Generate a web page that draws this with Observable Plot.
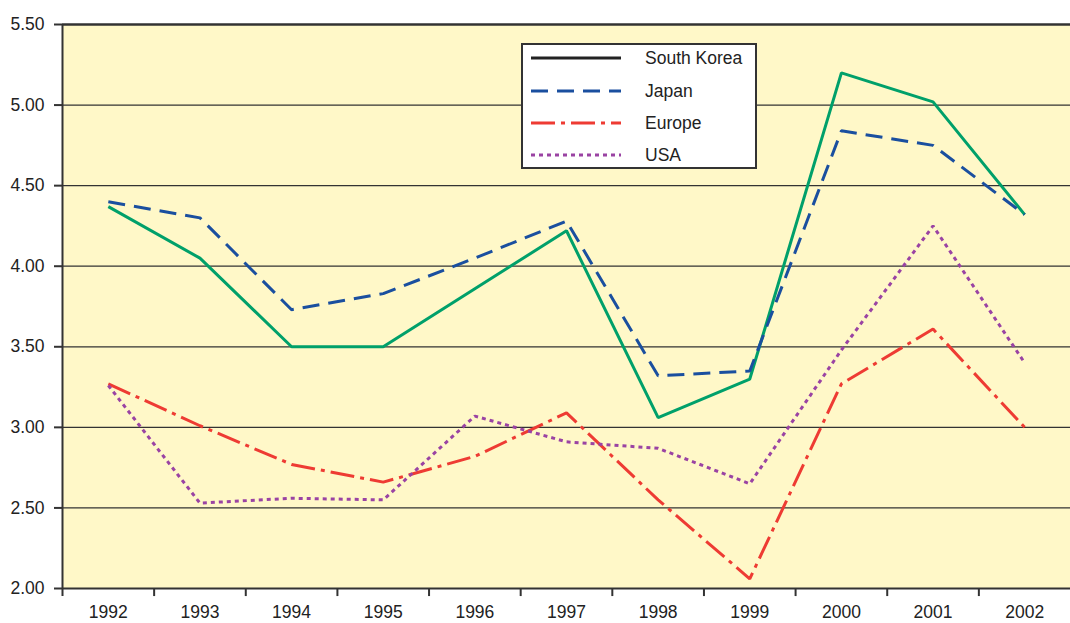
<!DOCTYPE html>
<html>
<head>
<meta charset="utf-8">
<script src="https://cdn.jsdelivr.net/npm/d3@7"></script>
<script src="https://cdn.jsdelivr.net/npm/@observablehq/plot@0.6"></script>
<style>
  html, body { margin: 0; padding: 0; background: #fff; }
  #wrap { position: relative; width: 1070px; height: 623px; font-family: "Liberation Sans", Arial, sans-serif; }
  #legend { position: absolute; left: 521px; top: 43px; width: 232px; height: 122px; background: #fff; border: 2px solid #333; }
  #legend svg { position: absolute; left: 0; top: 0; }
</style>
</head>
<body>
<div id="wrap"></div>
<script>
const years = [1992, 1993, 1994, 1995, 1996, 1997, 1998, 1999, 2000, 2001, 2002];
const southKorea = [4.37, 4.05, 3.50, 3.50, 3.86, 4.22, 3.06, 3.30, 5.20, 5.02, 4.32];
const japan      = [4.40, 4.30, 3.73, 3.83, 4.05, 4.28, 3.32, 3.35, 4.84, 4.75, 4.32];
const europe     = [3.27, 3.01, 2.77, 2.66, 2.82, 3.09, 2.55, 2.06, 3.27, 3.61, 3.00];
const usa        = [3.26, 2.53, 2.56, 2.55, 3.07, 2.91, 2.87, 2.65, 3.48, 4.25, 3.40];
const yTicks = [2.0, 2.5, 3.0, 3.5, 4.0, 4.5, 5.0, 5.5];
const seriesNames = ["South Korea", "Japan", "Europe", "USA"];

const styles = {
  "South Korea": {stroke: "#00a06a", dash: null, legendStroke: "#222"},
  "Japan": {stroke: "#1a4f9f", dash: "17 9"},
  "Europe": {stroke: "#ee3b33", dash: "24 6 4 6"},
  "USA": {stroke: "#9a43a3", dash: "4 4"}
};
const seriesValues = [southKorea, japan, europe, usa];
const data = [];
seriesNames.forEach((name, si) => {
  years.forEach((yr, i) => data.push({series: name, year: yr, value: seriesValues[si][i]}));
});

const boundaries = years.slice(0, -1).map(y => y + 0.5);
const gridVals = yTicks.filter(v => v > 2.0 && v < 5.5);

const lineMarks = seriesNames.map(name => Plot.line(data.filter(d => d.series === name), {
  x: "year", y: "value",
  stroke: styles[name].stroke, strokeWidth: 3,
  strokeDasharray: styles[name].dash || undefined,
  strokeLinecap: "butt", strokeLinejoin: "miter"
}));

const chart = Plot.plot({
  width: 1070, height: 623,
  marginLeft: 62, marginRight: 0, marginTop: 24, marginBottom: 35,
  style: {fontFamily: "Liberation Sans, Arial, sans-serif", fontSize: "17.5px", color: "#222", background: "transparent"},
  x: {domain: [1991.5, 2002.5], axis: null},
  y: {domain: [2.0, 5.5], axis: null},
  marks: [
    Plot.frame({fill: "#fff8c8", stroke: null}),
    Plot.ruleY(gridVals, {stroke: "#333", strokeWidth: 1.2}),
    Plot.ruleY([5.5], {stroke: "#333", strokeWidth: 2.5}),
    Plot.ruleY([2.0], {stroke: "#333", strokeWidth: 2}),
    Plot.ruleX([1991.5], {y1: 1.95, y2: 5.5, stroke: "#333", strokeWidth: 2}),
    Plot.ruleX(boundaries, {y1: 2.0, y2: 1.95, stroke: "#333", strokeWidth: 2}),
    Plot.axisY({ticks: yTicks, tickFormat: d3.format(".2f"), tickSize: 8, tickPadding: 10, stroke: "#333", strokeWidth: 2, label: null, fontSize: 17.5}),
    Plot.axisX({ticks: years, tickFormat: d => String(d), tickSize: 0, tickPadding: 17, label: null, fontSize: 17.5}),
    ...lineMarks
  ]
});
const wrap = document.getElementById("wrap");
wrap.appendChild(chart);

// Legend
const legend = document.createElement("div");
legend.id = "legend";
const ns = "http://www.w3.org/2000/svg";
const svg = document.createElementNS(ns, "svg");
svg.setAttribute("width", 232); svg.setAttribute("height", 122);
const rowY = [13, 46, 78, 110];
seriesNames.forEach((name, i) => {
  const l = document.createElementNS(ns, "line");
  l.setAttribute("x1", 8); l.setAttribute("x2", 98);
  l.setAttribute("y1", rowY[i]); l.setAttribute("y2", rowY[i]);
  l.setAttribute("stroke", styles[name].legendStroke || styles[name].stroke);
  l.setAttribute("stroke-width", 3);
  if (styles[name].dash) l.setAttribute("stroke-dasharray", styles[name].dash);
  svg.appendChild(l);
  const t = document.createElementNS(ns, "text");
  t.setAttribute("x", 122); t.setAttribute("y", rowY[i]);
  t.setAttribute("dy", "0.35em");
  t.setAttribute("font-size", 17.5);
  t.setAttribute("fill", "#222");
  t.setAttribute("font-family", "Liberation Sans, Arial, sans-serif");
  t.textContent = name;
  svg.appendChild(t);
});
legend.appendChild(svg);
wrap.appendChild(legend);
</script>
</body>
</html>
